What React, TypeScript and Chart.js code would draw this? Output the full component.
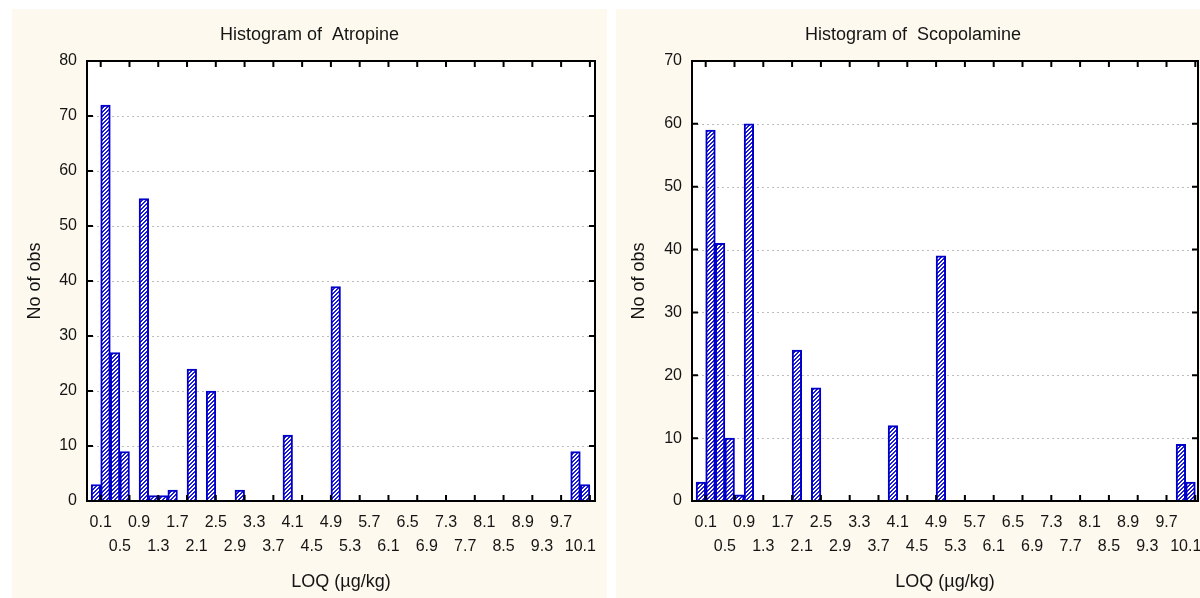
import { useEffect, useRef } from 'react';
import { Chart, registerables } from 'chart.js';

Chart.register(...registerables);
Chart.defaults.font.family = '"Liberation Sans", Arial, sans-serif';

// Bin centres (bin width 0.2, from -0.1 to 10.3)
const BIN_CENTERS = [
  0.0, 0.2, 0.4, 0.6, 0.8, 1.0, 1.2, 1.4, 1.6, 1.8,
  2.0, 2.2, 2.4, 2.6, 2.8, 3.0, 3.2, 3.4, 3.6, 3.8,
  4.0, 4.2, 4.4, 4.6, 4.8, 5.0, 5.2, 5.4, 5.6, 5.8,
  6.0, 6.2, 6.4, 6.6, 6.8, 7.0, 7.2, 7.4, 7.6, 7.8,
  8.0, 8.2, 8.4, 8.6, 8.8, 9.0, 9.2, 9.4, 9.6, 9.8,
  10.0, 10.2,
];

const ATROPINE_COUNTS = [
  3, 72, 27, 9, 0, 55, 1, 1, 2, 0,
  24, 0, 20, 0, 0, 2, 0, 0, 0, 0,
  12, 0, 0, 0, 0, 39, 0, 0, 0, 0,
  0, 0, 0, 0, 0, 0, 0, 0, 0, 0,
  0, 0, 0, 0, 0, 0, 0, 0, 0, 0,
  9, 3,
];

const SCOPOLAMINE_COUNTS = [
  3, 59, 41, 10, 1, 60, 0, 0, 0, 0,
  24, 0, 18, 0, 0, 0, 0, 0, 0, 0,
  12, 0, 0, 0, 0, 39, 0, 0, 0, 0,
  0, 0, 0, 0, 0, 0, 0, 0, 0, 0,
  0, 0, 0, 0, 0, 0, 0, 0, 0, 0,
  9, 3,
];

const X_TICK_LABELS = [
  '0.1', '0.5', '0.9', '1.3', '1.7', '2.1', '2.5', '2.9', '3.3', '3.7',
  '4.1', '4.5', '4.9', '5.3', '5.7', '6.1', '6.5', '6.9', '7.3', '7.7',
  '8.1', '8.5', '8.9', '9.3', '9.7', '10.1',
];

const X_TICK_MARKS = [
  0.1, 0.7, 1.3, 1.9, 2.5, 3.1, 3.7, 4.3, 4.9, 5.5,
  6.1, 6.7, 7.3, 7.9, 8.5, 9.1, 9.7, 10.3,
];

const BLUE = '#0000c8';
const TEXT = '#151515';
const CREAM = '#fdf9ee';

function makeHatch(): CanvasPattern | string {
  const c = document.createElement('canvas');
  c.width = 4;
  c.height = 4;
  const g = c.getContext('2d');
  if (!g) return '#7777e8';
  g.fillStyle = '#ffffff';
  g.fillRect(0, 0, 4, 4);
  g.fillStyle = '#1c1cd8';
  for (let x = 0; x < 4; x++) {
    for (let y = 0; y < 4; y++) {
      const m = (x + y) % 4;
      if (m === 0 || m === 1) g.fillRect(x, y, 1, 1);
    }
  }
  const p = g.createPattern(c, 'repeat');
  return p || '#7777e8';
}

const framePlugin = {
  id: 'statFrame',
  beforeDraw(chart: any) {
    const { ctx, chartArea: a } = chart;
    ctx.save();
    ctx.fillStyle = '#ffffff';
    ctx.fillRect(a.left, a.top, a.right - a.left, a.bottom - a.top);
    ctx.restore();
  },
  beforeDatasetsDraw(chart: any) {
    const { ctx, chartArea: a, scales } = chart;
    const y = scales.y;
    ctx.save();
    ctx.strokeStyle = '#bcbcbc';
    ctx.lineWidth = 1;
    ctx.setLineDash([2, 3]);
    ctx.beginPath();
    y.ticks.forEach((t: any) => {
      if (t.value <= y.min || t.value >= y.max) return;
      const py = Math.round(y.getPixelForValue(t.value)) + 0.5;
      ctx.moveTo(a.left, py);
      ctx.lineTo(a.right, py);
    });
    ctx.stroke();
    ctx.restore();
  },
  afterDatasetsDraw(chart: any) {
    const { ctx, chartArea: a, scales } = chart;
    const x = scales.x;
    const y = scales.y;
    ctx.save();
    ctx.strokeStyle = '#000000';
    ctx.lineWidth = 2;
    ctx.strokeRect(a.left, a.top, a.right - a.left, a.bottom - a.top);
    ctx.beginPath();
    X_TICK_MARKS.forEach((v) => {
      const px = x.getPixelForValue(v);
      ctx.moveTo(px, a.top);
      ctx.lineTo(px, a.top + 6);
      ctx.moveTo(px, a.bottom);
      ctx.lineTo(px, a.bottom - 6);
    });
    y.ticks.forEach((t: any) => {
      const py = y.getPixelForValue(t.value);
      ctx.moveTo(a.left, py);
      ctx.lineTo(a.left + 6, py);
      ctx.moveTo(a.right, py);
      ctx.lineTo(a.right - 6, py);
    });
    ctx.stroke();
    ctx.restore();
  },
};

type PanelProps = {
  title: string;
  counts: number[];
  yMax: number;
  xMin: number;
  xMax: number;
  padRight: number;
  yWidth: number;
  left: number;
};

function Panel({ title, counts, yMax, xMin, xMax, padRight, yWidth, left }: PanelProps) {
  const ref = useRef<HTMLCanvasElement>(null);

  useEffect(() => {
    if (!ref.current) return;
    const hatch = makeHatch();
    const chart = new Chart(ref.current, {
      type: 'bar',
      data: {
        datasets: [
          {
            data: BIN_CENTERS.map((c, i) => ({ x: c, y: counts[i] })),
            backgroundColor: hatch as any,
            borderColor: BLUE,
            borderWidth: 2,
            barPercentage: 1,
            categoryPercentage: 1,
            borderSkipped: 'start',
          } as any,
        ],
      },
      options: {
        responsive: false,
        animation: false,
        devicePixelRatio: 1,
        layout: { padding: { left: 12, right: padRight, top: 0, bottom: 0 } },
        plugins: {
          legend: { display: false },
          tooltip: { enabled: false },
          title: {
            display: true,
            text: title,
            color: TEXT,
            font: { size: 18, weight: 'normal' },
            padding: { top: 14.9, bottom: 15.5 },
          },
        },
        scales: {
          x: {
            type: 'linear',
            min: xMin,
            max: xMax,
            offset: false,
            grid: { display: false, drawTicks: false, offset: false },
            border: { display: false },
            afterBuildTicks: (s: any) => {
              s.ticks = X_TICK_LABELS.map((l) => ({ value: parseFloat(l) }));
            },
            afterFit: (s: any) => {
              s.height = 97;
            },
            ticks: {
              autoSkip: false,
              maxRotation: 0,
              minRotation: 0,
              padding: 9.3,
              color: TEXT,
              font: { size: 16, lineHeight: 1.52 },
              callback: (_v: any, i: number) =>
                i % 2 === 0 ? [X_TICK_LABELS[i]] : ['', X_TICK_LABELS[i]],
            },
            title: {
              display: true,
              text: 'LOQ (µg/kg)',
              color: TEXT,
              font: { size: 18 },
              padding: { top: 0, bottom: 5.4 },
            },
          },
          y: {
            min: 0,
            max: yMax,
            grid: { display: false, drawTicks: false },
            border: { display: false },
            afterFit: (s: any) => {
              s.width = yWidth;
            },
            ticks: {
              stepSize: 10,
              padding: 10,
              color: TEXT,
              font: { size: 16 },
            },
            title: {
              display: true,
              text: 'No of obs',
              color: TEXT,
              font: { size: 18 },
              padding: { top: 0.4, bottom: 0 },
            },
          },
        },
      } as any,
      plugins: [framePlugin],
    });
    return () => chart.destroy();
  }, []);

  return (
    <div
      style={{
        position: 'absolute',
        left,
        top: 9,
        width: 595,
        height: 589,
        background: CREAM,
      }}
    >
      <canvas ref={ref} width={595} height={589} style={{ display: 'block' }} />
    </div>
  );
}

export default function App() {
  return (
    <div
      style={{
        position: 'fixed',
        left: 0,
        top: 0,
        width: 1200,
        height: 598,
        overflow: 'hidden',
        background: '#ffffff',
      }}
    >
      <Panel
        title="Histogram of  Atropine"
        counts={ATROPINE_COUNTS}
        yMax={80}
        xMin={-0.1857}
        xMax={10.4065}
        padRight={12}
        yWidth={63}
        left={12}
      />
      <Panel
        title="Histogram of  Scopolamine"
        counts={SCOPOLAMINE_COUNTS}
        yMax={70}
        xMin={-0.1854}
        xMax={10.356}
        padRight={13}
        yWidth={64}
        left={616}
      />
    </div>
  );
}
